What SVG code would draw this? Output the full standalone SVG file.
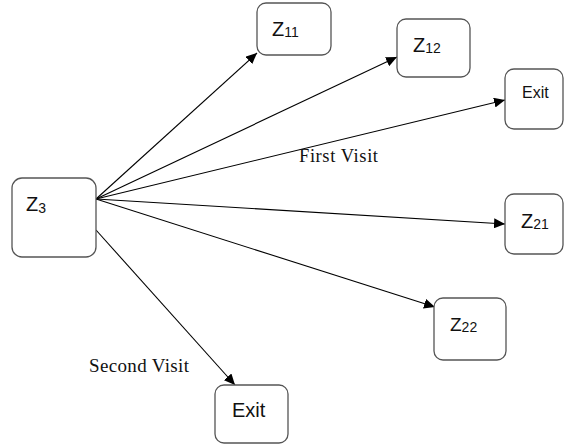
<svg xmlns="http://www.w3.org/2000/svg" width="564" height="448" viewBox="0 0 564 448">
<defs>
<style>
.box{fill:#fff;stroke:#555;stroke-width:1.3}
.lbl{font-family:"Liberation Sans","Noto Sans",sans-serif;fill:#111}
.vis{font-family:"Liberation Serif","DejaVu Serif",serif;fill:#111}
.con line{stroke:#000;stroke-width:1.1}
</style>
<marker id="ah" markerWidth="12" markerHeight="10" refX="11" refY="5" orient="auto" markerUnits="userSpaceOnUse">
<path d="M0,0 L11,5 L0,10 Z" fill="#000"/>
</marker>
</defs>
<rect width="564" height="448" fill="#fff"/>
<g class="con">
<line x1="96" y1="199" x2="257" y2="53" marker-end="url(#ah)"/>
<line x1="96" y1="199" x2="397" y2="57" marker-end="url(#ah)"/>
<line x1="96" y1="199" x2="505" y2="100" marker-end="url(#ah)"/>
<line x1="96" y1="199" x2="505" y2="224" marker-end="url(#ah)"/>
<line x1="96" y1="199" x2="435" y2="307" marker-end="url(#ah)"/>
<line x1="96" y1="230" x2="235" y2="385" marker-end="url(#ah)"/>
</g>
<g id="z3"><rect class="box" x="12" y="178" width="84" height="79" rx="10"/><text class="lbl" x="26" y="211" font-size="20">Z<tspan font-size="14" dy="2">3</tspan></text></g>
<g id="z11"><rect class="box" x="257" y="3" width="74" height="52" rx="9"/><text class="lbl" x="272" y="36" font-size="20">Z<tspan font-size="14" dy="1">11</tspan></text></g>
<g id="z12"><rect class="box" x="397" y="19" width="73" height="58" rx="9"/><text class="lbl" x="413" y="52" font-size="20">Z<tspan font-size="14" dy="1">12</tspan></text></g>
<g id="exit1"><rect class="box" x="505" y="69" width="58" height="60" rx="9"/><text class="lbl" x="522" y="98" font-size="16">Exit</text></g>
<g id="z21"><rect class="box" x="505" y="194" width="58" height="60" rx="9"/><text class="lbl" x="521" y="228" font-size="20">Z<tspan font-size="14" dy="1">21</tspan></text></g>
<g id="z22"><rect class="box" x="434" y="298" width="72" height="62" rx="9"/><text class="lbl" x="450" y="331" font-size="19">Z<tspan font-size="14" dy="1">22</tspan></text></g>
<g id="exit2"><rect class="box" x="215" y="385" width="73" height="58" rx="9"/><text class="lbl" x="232" y="417" font-size="20">Exit</text></g>
<text class="vis" x="299" y="162" font-size="18.5" textLength="79">First Visit</text>
<text class="vis" x="89" y="372" font-size="19" textLength="100">Second Visit</text>
</svg>
